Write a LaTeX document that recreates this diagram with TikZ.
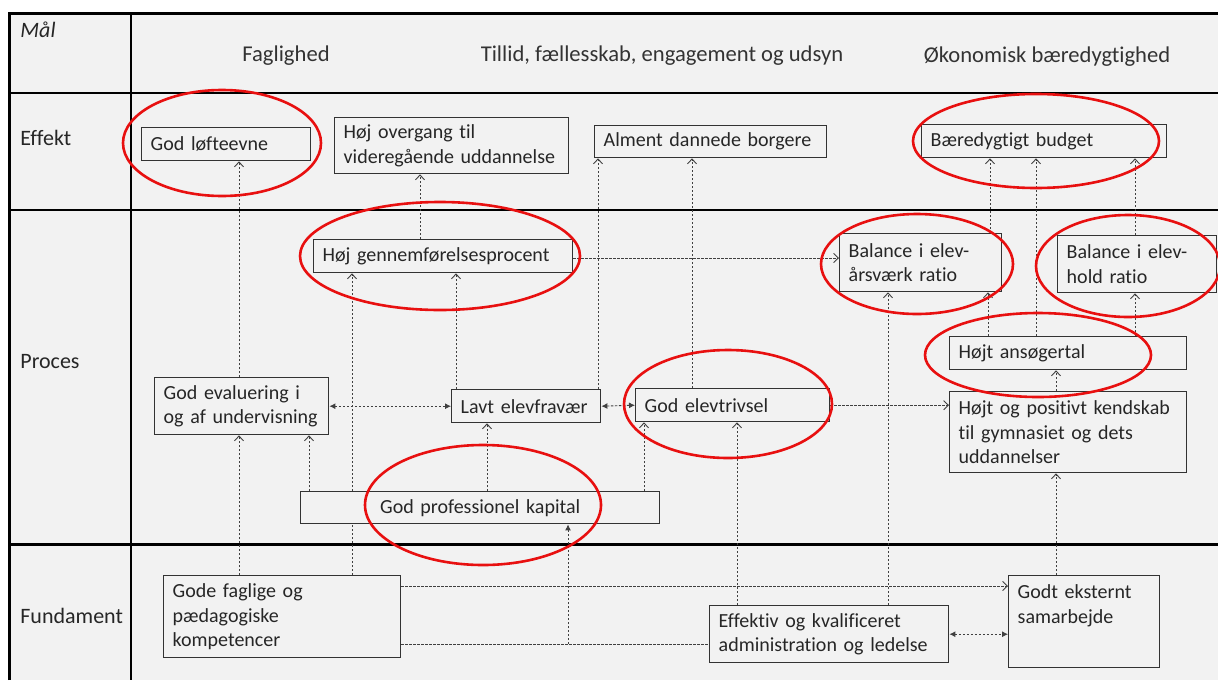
\documentclass[tikz,border=0pt]{standalone}
\usepackage{fontspec}
\setmainfont{Carlito}[Ligatures=NoCommon]
\usetikzlibrary{arrows.meta,backgrounds}
\definecolor{baggrund}{HTML}{F2F2F2}
\definecolor{streg}{HTML}{404040}
\definecolor{ring}{RGB}{232,16,16}
\tikzset{
  felt/.style={draw=streg!80!black, fill=baggrund, line width=0.7pt, anchor=north west, align=left,
    inner xsep=4.5pt, inner ysep=1pt, text=black!85, font=\fontsize{10}{12.2}\selectfont},
  pil/.style={draw=streg, line width=0.45pt, dash pattern=on 1.2pt off 0.8pt,
    -{Straight Barb[length=2.4pt,width=4.6pt]}},
  fyldtpil/.style={draw=streg, line width=0.45pt, dash pattern=on 1.2pt off 0.8pt,
    -{Latex[length=3pt,width=3pt]}},
  dobbeltpil/.style={draw=streg, line width=0.45pt, dash pattern=on 1.2pt off 0.8pt,
    {Latex[length=3pt,width=3pt]}-{Latex[length=3pt,width=3pt]}},
  markering/.style={draw=ring, line width=1.3pt},
  raekke/.style={anchor=west, inner sep=0pt, font=\fontsize{11}{13}\selectfont, text=black!85},
  maal/.style={inner sep=0pt, font=\fontsize{11.3}{13}\selectfont, text=black!80}
}
\begin{document}
\begin{tikzpicture}[x=0.5pt,y=-0.5pt]
\useasboundingbox (0,0) rectangle (1218,680);
% skema
\begin{pgfonlayer}{background}
\fill[white] (0,0) rectangle (1218,680);
\fill[baggrund] (9,13) rectangle (1218,680);
\draw[line width=0.6pt] (9,93) -- (1218,93) (9,210) -- (1218,210) (131,13) -- (131,680);
\draw[line width=1.5pt] (9,680) -- (9,13) -- (1218,13) (9,544) -- (1218,544);
\end{pgfonlayer}
\node[raekke] (maalrk) at (20,30) {\itshape Mål};
\node[raekke] (effekt) at (20,138) {Effekt};
\node[raekke] (proces) at (20,362) {Proces};
\node[raekke] (fundament) at (20,616) {Fundament};
\node[maal] (faglighed) at (286,56) {Faglighed};
\node[maal] (tillid) at (662,56) {Tillid, fællesskab, engagement og udsyn};
\node[maal] (oekonomi) at (1047,57) {Økonomisk bæredygtighed};
% effekt
\node[felt, text width=75.5pt, minimum height=16.5pt] (loft) at (141,127) {God løfteevne};
\node[felt, text width=108pt, minimum height=28pt] (overgang) at (334,117) {Høj overgang til\\videregående uddannelse};
\node[felt, text width=107pt, minimum height=16pt] (alment) at (594,125) {Alment dannede borgere};
\node[felt, text width=113.5pt, minimum height=16.5pt] (budget) at (921,124) {Bæredygtigt budget};
% proces
\node[felt, text width=120.5pt, minimum height=16.5pt] (gennemf) at (313,239) {Høj gennemførelsesprocent};
\node[felt, text width=72pt, minimum height=29pt] (aarsvaerk) at (839,233) {Balance i elev-\\årsværk ratio};
\node[felt, text width=70.5pt, minimum height=28.5pt] (hold) at (1057,235) {Balance i elev-\\hold ratio};
\node[felt, text width=109.5pt, minimum height=16.5pt] (ansoeg) at (949,336) {Højt ansøgertal};
\node[felt, text width=78pt, minimum height=28.5pt] (evaluering) at (154,377) {God evaluering i\\og af undervisning};
\node[felt, text width=65.5pt, minimum height=16.5pt] (fravaer) at (451,389) {Lavt elevfravær};
\node[felt, text width=88pt, minimum height=16.5pt] (trivsel) at (635,388) {God elevtrivsel};
\node[felt, text width=109.5pt, minimum height=40.5pt] (kendskab) at (949,391) {Højt og positivt kendskab\\til gymnasiet og dets\\uddannelser};
\node[felt, text width=170.5pt, minimum height=16pt, align=center] (kapital) at (300,491) {God professionel kapital};
% fundament
\node[felt, text width=109.5pt, minimum height=41pt] (faglige) at (163,575) {Gode faglige og\\pædagogiske\\kompetencer};
\node[felt, text width=110.5pt, minimum height=28.5pt] (ledelse) at (709,605) {Effektiv og kvalificeret\\administration og ledelse};
\node[felt, text width=66.5pt, text height=10.5pt, text depth=33.5pt] (eksternt) at (1008,575) {Godt eksternt\\samarbejde};
\coordinate (knude) at (568,644);
% forbindelser
\begin{pgfonlayer}{background}
\foreach \x/\fra/\til in {239/evaluering/loft, 420/gennemf/overgang, 598/fravaer/alment, 692/trivsel/alment,
  990/aarsvaerk/budget, 1036/ansoeg/budget, 1135/hold/budget, 352/faglige/gennemf, 456/fravaer/gennemf,
  888/ledelse/aarsvaerk, 988/ansoeg/aarsvaerk, 1135/ansoeg/hold, 1056/kendskab/ansoeg, 1056/eksternt/kendskab,
  239/faglige/evaluering, 309/kapital/evaluering, 487/kapital/fravaer, 644/kapital/trivsel, 737/ledelse/trivsel}
  \draw[pil] (\x,0 |- \fra.north) -- (\x,0 |- \til.south);
\draw[pil] (gennemf.east |- 0,258) -- (aarsvaerk.west |- 0,258);
\draw[pil] (trivsel.east) -- (trivsel.east -| kendskab.west);
\draw[pil] (faglige.east |- 0,586) -- (eksternt.west |- 0,586);
\draw[pil, -] (faglige.east |- knude) -- (ledelse.west |- knude);
\draw[fyldtpil] (knude) -- (knude |- kapital.south);
\draw[dobbeltpil] (evaluering.east) -- (fravaer.west);
\draw[dobbeltpil] (fravaer.east) -- (trivsel.west);
\draw[dobbeltpil] (ledelse.east) -- (ledelse.east -| eksternt.west);
\end{pgfonlayer}
% markeringer
\draw[markering] (222,143) ellipse [x radius=99, y radius=53];
\draw[markering] (440,256) ellipse [x radius=140, y radius=54];
\draw[markering] (483,505) ellipse [x radius=118, y radius=60];
\draw[markering] (728,404) ellipse [x radius=104, y radius=54];
\draw[markering] (917,264) ellipse [x radius=96, y radius=50];
\draw[markering] (1128,266) ellipse [x radius=92, y radius=51];
\draw[markering] (1036,141) ellipse [x radius=123, y radius=47];
\draw[markering] (1038,355) ellipse [x radius=113, y radius=42];
\end{tikzpicture}
\end{document}
